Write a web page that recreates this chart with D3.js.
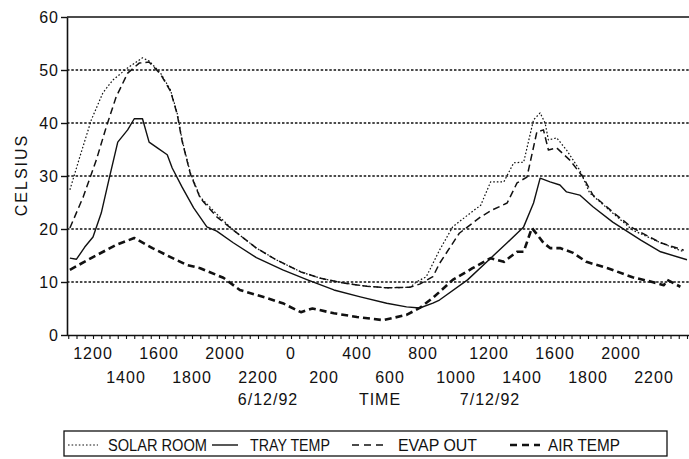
<!DOCTYPE html>
<html>
  <head>
    <meta charset="utf-8">
    <title>solar room temperatures</title>
    <script type="text/javascript" src="https://d3js.org/d3.v7.min.js"></script>
    <style>
      body { margin: 0; background: #fff; }
      text { font-family: "Liberation Sans", Arial, sans-serif; fill: #111; }
    </style>
  </head>
  <body>
    <svg width="689" height="459"></svg>
    <script>
      // hours counted from midnight 6/12 -> 7/12 (negative = day before)
      var solarHours = [-13.4, -12.8, -12.1, -11.4, -10.8, -9.9, -9.0, -8.6, -7.9, -7.3, -6.9, -6.6, -6.1, -5.5, -4.5, -3.5, -2.1, -0.9, 0.6, 1.8, 3.2, 4.6, 5.8, 7.2, 7.6, 8.2, 9.0, 9.8, 10.7, 11.5, 12.1, 12.9, 13.5, 14.1, 14.7, 15.1, 15.4, 15.6, 16.1, 16.7, 17.5, 18.1, 19.5, 20.7, 22.4, 23.8];
      var solarTemp = [27.4, 33.6, 40.6, 45.7, 48.1, 50.4, 52.3, 51.7, 49.4, 46.2, 41.9, 36.8, 30.6, 26.0, 22.8, 19.8, 16.4, 14.2, 11.9, 10.7, 9.8, 9.2, 8.9, 9.0, 10.0, 11.0, 16.0, 20.4, 22.6, 24.5, 28.9, 28.9, 32.5, 32.6, 40.6, 41.9, 40.0, 36.8, 37.2, 34.9, 31.1, 26.8, 23.0, 19.8, 17.4, 15.7];

      var trayHours = [-13.4, -13.0, -12.5, -12.0, -11.5, -11.0, -10.5, -9.9, -9.5, -9.0, -8.6, -8.1, -7.5, -7.2, -6.6, -5.9, -5.1, -4.5, -3.5, -2.1, -0.5, 1.0, 2.6, 4.2, 5.8, 7.0, 7.8, 8.6, 9.0, 10.7, 12.1, 13.1, 14.1, 14.7, 15.1, 15.7, 16.3, 16.7, 17.5, 18.3, 19.5, 21.2, 22.4, 24.0];
      var trayTemp = [14.5, 14.3, 16.6, 18.5, 23.0, 29.8, 36.4, 38.7, 40.8, 40.8, 36.4, 35.3, 34.0, 31.5, 27.9, 24.0, 20.4, 19.6, 17.4, 14.6, 12.3, 10.4, 8.5, 7.2, 6.0, 5.3, 5.1, 6.0, 6.6, 10.4, 14.5, 17.4, 20.4, 24.9, 29.6, 28.9, 28.3, 27.0, 26.4, 24.2, 21.3, 17.9, 15.7, 14.2];

      var evapHours = [-13.4, -12.6, -11.8, -11.2, -10.6, -9.9, -9.2, -8.6, -7.9, -7.3, -6.9, -6.6, -6.1, -5.5, -4.5, -3.5, -2.1, -0.9, 0.6, 1.8, 3.2, 4.6, 5.8, 7.2, 7.8, 8.6, 9.0, 10.2, 11.5, 12.2, 13.1, 13.7, 14.3, 14.9, 15.3, 15.6, 16.1, 16.9, 17.7, 18.3, 19.5, 20.7, 22.4, 23.8];
      var evapTemp = [20.2, 26.0, 33.0, 39.2, 44.9, 49.4, 51.3, 51.5, 49.2, 46.0, 41.7, 36.6, 30.4, 25.8, 22.3, 19.8, 16.4, 14.2, 11.9, 10.7, 9.8, 9.2, 8.9, 9.0, 9.6, 11.0, 13.5, 19.2, 22.3, 23.6, 24.9, 28.7, 29.8, 38.3, 38.7, 34.9, 35.3, 33.0, 29.8, 26.4, 23.2, 20.2, 17.4, 16.0];

      var airHours = [-13.4, -12.0, -10.6, -9.5, -8.4, -7.3, -6.3, -5.5, -4.1, -3.1, -1.5, -0.5, 0.6, 1.3, 2.6, 4.0, 5.6, 7.0, 7.8, 8.6, 9.8, 11.0, 12.1, 12.9, 13.7, 14.1, 14.6, 15.3, 15.7, 16.3, 17.1, 17.9, 19.2, 20.7, 21.9, 22.6, 22.8, 23.6];
      var airTemp = [12.3, 14.7, 17.0, 18.3, 16.4, 14.7, 13.2, 12.6, 10.8, 8.5, 7.0, 6.0, 4.3, 5.0, 4.1, 3.4, 2.8, 3.8, 5.1, 7.0, 10.4, 12.6, 14.5, 13.8, 15.7, 15.7, 20.2, 17.4, 16.4, 16.4, 15.5, 13.8, 12.6, 10.9, 10.0, 9.4, 10.4, 9.1];

      var row1Hours = [-12, -8, -4, 0, 4, 8, 12, 16, 20];
      var row1Labels = ["1200", "1600", "2000", "0", "400", "800", "1200", "1600", "2000"];
      var row2Hours = [-10, -6, -2, 2, 6, 10, 14, 18, 22];
      var row2Labels = ["1400", "1800", "2200", "200", "600", "1000", "1400", "1800", "2200"];
      var yTicks = [0, 10, 20, 30, 40, 50, 60];
      var seriesNames = ["SOLAR ROOM", "TRAY TEMP", "EVAP OUT", "AIR TEMP"];

      var svg = d3.select("svg");
      var x = d3.scaleLinear().domain([-13.6, 24.2]).range([66.6, 690.3]);
      var y = d3.scaleLinear().domain([0, 60]).range([335, 17]);

      svg.append("rect").attr("width", 689).attr("height", 459).attr("fill", "#fff");

      // dotted grid
      svg.append("g").selectAll("line")
        .data(yTicks.filter(function(d){ return d > 0 && d < 60; }))
        .enter().append("line")
        .attr("x1", 67).attr("x2", 689)
        .attr("y1", function(d){ return y(d); })
        .attr("y2", function(d){ return y(d); })
        .attr("stroke", "#111").attr("stroke-width", 1.5)
        .attr("stroke-dasharray", "2.5,1.8");

      // top border
      svg.append("line").attr("x1", 67).attr("x2", 689).attr("y1", y(60)).attr("y2", y(60))
        .attr("stroke", "#111").attr("stroke-width", 1.5);

      // y axis
      var yAxis = svg.append("g").attr("transform", "translate(67,0)")
        .call(d3.axisLeft(y).tickValues(yTicks).tickSize(6).tickSizeOuter(0).tickPadding(2));
      yAxis.select(".domain").attr("stroke", "#111").attr("stroke-width", 1.6);
      yAxis.selectAll(".tick line").attr("stroke", "#111").attr("stroke-width", 1.4);
      yAxis.selectAll(".tick text").attr("font-size", 16).attr("letter-spacing", 1)
        .attr("font-family", "Liberation Sans, Arial, sans-serif").attr("fill", "#111");

      // x axis with half-hour ticks
      var xAxis = svg.append("g").attr("transform", "translate(0,335)")
        .call(d3.axisBottom(x).tickValues(d3.range(-13.5, 24.1, 0.5)).tickSize(4).tickSizeOuter(0).tickFormat(""));
      xAxis.select(".domain").attr("stroke", "#111").attr("stroke-width", 1.6);
      xAxis.selectAll(".tick line").attr("stroke", "#111").attr("stroke-width", 1.1);

      svg.append("g").selectAll("text").data(row1Hours).enter().append("text")
        .attr("x", function(d){ return x(d); }).attr("y", 359)
        .attr("text-anchor", "middle").attr("font-size", 16).attr("letter-spacing", 1)
        .text(function(d, i){ return row1Labels[i]; });
      svg.append("g").selectAll("text").data(row2Hours).enter().append("text")
        .attr("x", function(d){ return x(d); }).attr("y", 383)
        .attr("text-anchor", "middle").attr("font-size", 16).attr("letter-spacing", 1)
        .text(function(d, i){ return row2Labels[i]; });

      svg.append("text").attr("x", 268).attr("y", 405).attr("text-anchor", "middle")
        .attr("font-size", 16).attr("letter-spacing", 1).text("6/12/92");
      svg.append("text").attr("x", 380).attr("y", 405).attr("text-anchor", "middle")
        .attr("font-size", 16).attr("letter-spacing", 1).text("TIME");
      svg.append("text").attr("x", 490).attr("y", 405).attr("text-anchor", "middle")
        .attr("font-size", 16).attr("letter-spacing", 1).text("7/12/92");

      svg.append("text").attr("transform", "translate(27,175) rotate(-90)")
        .attr("text-anchor", "middle").attr("font-size", 16).attr("letter-spacing", 2)
        .text("CELSIUS");

      // series
      var styles = [
        {w: 1.2, dash: "1.6,2"},
        {w: 1.4, dash: null},
        {w: 1.5, dash: "7,4"},
        {w: 2.6, dash: "7,4"}
      ];
      var series = [
        [solarHours, solarTemp],
        [trayHours, trayTemp],
        [evapHours, evapTemp],
        [airHours, airTemp]
      ];
      var line = d3.line()
        .x(function(d){ return x(d[0]); })
        .y(function(d){ return y(d[1]); });

      series.forEach(function(s, i){
        var pts = s[0].map(function(h, j){ return [h, s[1][j]]; });
        svg.append("path").datum(pts)
          .attr("d", line)
          .attr("fill", "none")
          .attr("stroke", "#111")
          .attr("stroke-width", styles[i].w)
          .attr("stroke-linejoin", "round")
          .attr("stroke-dasharray", styles[i].dash);
      });

      // legend
      var lg = svg.append("g");
      lg.append("rect").attr("x", 64).attr("y", 431).attr("width", 603).attr("height", 25)
        .attr("fill", "none").attr("stroke", "#111").attr("stroke-width", 1.3);
      var sampleX = [[68, 98], [212, 238], [352, 388], [510, 540]];
      var textX = [108, 250, 398, 548];
      var textW = [99, 80, 79, 72];
      seriesNames.forEach(function(name, i){
        lg.append("line")
          .attr("x1", sampleX[i][0]).attr("x2", sampleX[i][1])
          .attr("y1", 445).attr("y2", 445)
          .attr("stroke", "#111")
          .attr("stroke-width", i == 3 ? 2.4 : styles[i].w)
          .attr("stroke-dasharray", i == 0 ? "1.6,2" : (i == 1 ? null : "7,5"));
        lg.append("text").attr("x", textX[i]).attr("y", 451)
          .attr("font-size", 16)
          .attr("textLength", textW[i]).attr("lengthAdjust", "spacingAndGlyphs")
          .text(name);
      });
    </script>
  </body>
</html>
